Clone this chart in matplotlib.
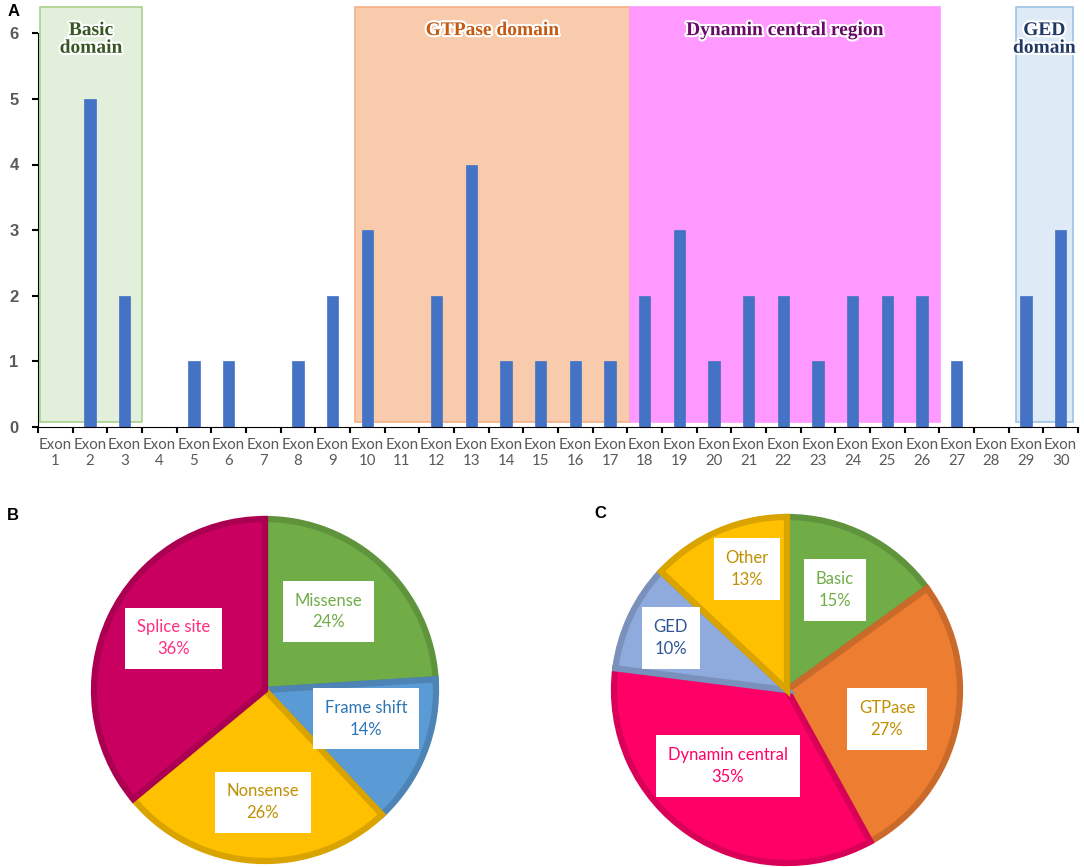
import numpy as np
import matplotlib
matplotlib.use('Agg')
import matplotlib.pyplot as plt
import matplotlib.patheffects as pe
from matplotlib.patches import Rectangle
from matplotlib.colors import to_rgb

# data
exons = list(range(1, 31))
counts = [0, 5, 2, 0, 1, 1, 0, 1, 2, 3, 0, 2, 4, 1, 1, 1, 1,
          2, 3, 1, 2, 2, 1, 2, 2, 2, 1, 0, 2, 3]

domain_names = ['Basic\ndomain', 'GTPase domain', 'Dynamin central region', 'GED\ndomain']

type_labels = ['Missense', 'Frame shift', 'Nonsense', 'Splice site']
type_pct = [24, 14, 26, 36]

region_labels = ['Basic', 'GTPase', 'Dynamin central', 'GED', 'Other']
region_pct = [15, 27, 35, 10, 13]

# styles
W, H = 1084, 867
fig = plt.figure(figsize=(W / 100, H / 100), dpi=100)


def px_axes(x0, y0, x1, y1):
    # pixel box (top-left origin) -> figure axes
    return fig.add_axes([x0 / W, 1 - y1 / H, (x1 - x0) / W, (y1 - y0) / H])


# ---------- A: bar chart ----------
ax = px_axes(38, 7, 1078, 427)
ax.set_xlim(0.5, 30.5)
ax.set_ylim(0, 6.4)

dom_span = [(0.56, 3.5), (9.64, 17.58), (17.58, 26.52), (28.71, 30.35)]
dom_fill = ['#E2EFDA', '#F8CBAD', '#FF99FF', '#DEEBF7']
dom_edge = ['#A9D18E', '#F4B183', '#FF99FF', '#9DC3E6']
dom_text = ['#375623', '#C55A11', '#660A66', '#1F3864']
for (x0, x1), fc, ec, tc, name in zip(dom_span, dom_fill, dom_edge, dom_text, domain_names):
    ax.add_patch(Rectangle((x0, 0.07), x1 - x0, 6.33, facecolor=fc, edgecolor=ec,
                           lw=1.2, zorder=1, clip_on=False))
    ax.text((x0 + x1) / 2, 6.17, name, ha='center', va='top', fontsize=14,
            family='Liberation Serif', fontweight='bold', color=tc, linespacing=1.05,
            zorder=3, path_effects=[pe.withStroke(linewidth=3, foreground='white')])

ax.bar(exons, counts, width=0.32, color='#4472C4', edgecolor='#4472C4', lw=0.5, zorder=2)

for s in ['top', 'right']:
    ax.spines[s].set_visible(False)
ax.spines['left'].set_bounds(0, 6)
ax.spines['left'].set_zorder(4)
ax.spines['bottom'].set_zorder(4)
ax.set_yticks(range(7))
ax.set_yticklabels([str(i) for i in range(7)], fontsize=12, fontweight='bold',
                   color='#595959', family='Liberation Sans')
ax.tick_params(axis='y', length=4, width=1.5, pad=10)

ax.set_xticks(np.arange(0.5, 31, 1), minor=True)
ax.set_xticks(exons)
ax.set_xticklabels([f'Exon\n{e}' for e in exons], fontsize=10.8, color='#595959',
                   family='Lato', linespacing=1.2)
ax.tick_params(axis='x', which='major', length=0, pad=8)
ax.tick_params(axis='x', which='minor', length=4, width=1.5)

fig.text(8 / W, 1 - 12 / H, 'A', fontsize=12, fontweight='bold', family='Liberation Sans',
         va='center', ha='left')
fig.text(7 / W, 1 - 515 / H, 'B', fontsize=12, fontweight='bold', family='Liberation Sans',
         va='center', ha='left')
fig.text(594 / W, 1 - 513 / H, 'C', fontsize=12, fontweight='bold', family='Liberation Sans',
         va='center', ha='left')


# ---------- pies ----------
def darker(c, f=0.85):
    r, g, b = to_rgb(c)
    return (r * f, g * f, b * f)


def draw_pie(cx, cy, r, pct, labels, colors, txt_colors, label_pos):
    lim = 1.06
    pa = px_axes(cx - r * lim, cy - r * lim, cx + r * lim, cy + r * lim)
    wedges, _ = pa.pie(pct, colors=colors, startangle=90, counterclock=False,
                       wedgeprops=dict(linewidth=4.5))
    for w, c in zip(wedges, colors):
        w.set_edgecolor(darker(c))
    pa.set_xlim(-lim, lim)
    pa.set_ylim(-lim, lim)
    pa.set_aspect('equal')
    for lab, p, tc, (lx, ly) in zip(labels, pct, txt_colors, label_pos):
        pa.text(lx, ly, f'{lab}\n{p}%', ha='center', va='center', fontsize=12,
                family='Lato', color=tc, linespacing=1.45,
                bbox=dict(boxstyle='square,pad=0.7', facecolor='white', edgecolor='none'))


draw_pie(265, 690, 171, type_pct, type_labels,
         ['#70AD47', '#5B9BD5', '#FFC000', '#C9005F'],
         ['#70AD47', '#2E75B6', '#BF9000', '#FF2D7F'],
         [(0.372, 0.459), (0.593, -0.169), (-0.012, -0.657), (-0.535, 0.302)])

draw_pie(787, 690, 173, region_pct, region_labels,
         ['#70AD47', '#ED7D31', '#FF0066', '#8FAADC', '#FFC000'],
         ['#70AD47', '#C09000', '#FF0066', '#2F5597', '#BF9000'],
         [(0.277, 0.578), (0.578, -0.168), (-0.341, -0.439), (-0.671, 0.301), (-0.231, 0.699)])

fig.savefig('out.png', dpi=100)
